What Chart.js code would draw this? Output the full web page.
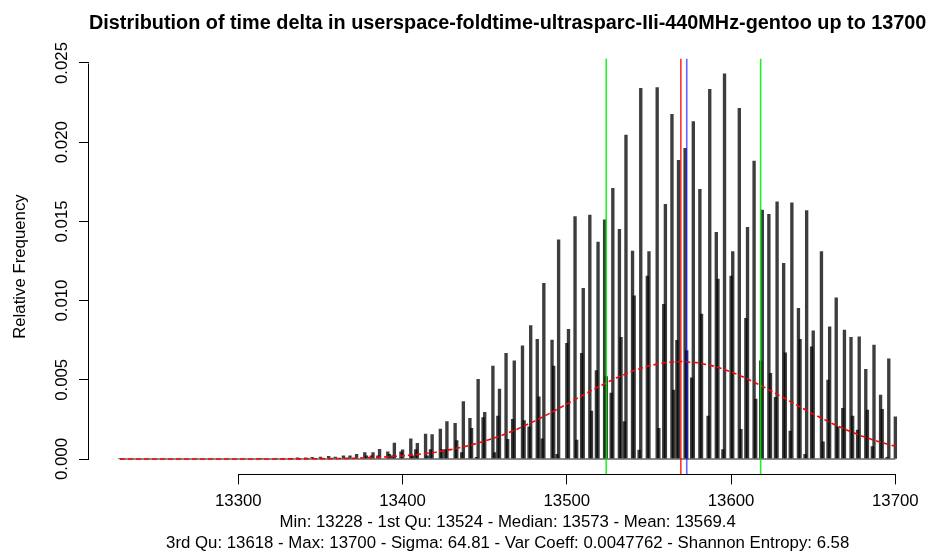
<!DOCTYPE html>
<html>
<head>
<meta charset="utf-8">
<script src="https://cdn.jsdelivr.net/npm/chart.js@4.4.1/dist/chart.umd.min.js"></script>
<style>
  html, body { margin: 0; padding: 0; background: #ffffff; }
  #wrap { width: 933px; height: 558px; }
</style>
</head>
<body>
<div id="wrap"><canvas id="c" width="933" height="558"></canvas></div>
<script>
// ---------- data ----------
const chartTitle = 'Distribution of time delta in userspace-foldtime-ultrasparc-IIi-440MHz-gentoo up to 13700';
const yLabel = 'Relative Frequency';
const statsLines = [
  'Min: 13228 - 1st Qu: 13524 - Median: 13573 - Mean: 13569.4',
  '3rd Qu: 13618 - Max: 13700 - Sigma: 64.81 - Var Coeff: 0.0047762 - Shannon Entropy: 6.58'
];

// main (tall) spike of each group
const peakDelta = [13228, 13314, 13323, 13327, 13332, 13336, 13341, 13345, 13350, 13355, 13359, 13364, 13368, 13372,
  13377, 13382, 13386, 13391, 13395, 13400, 13405, 13409, 13414, 13418, 13423, 13427, 13432, 13437, 13441,
  13446, 13450, 13455, 13459, 13463, 13468, 13473, 13478, 13482, 13486, 13491, 13495, 13501, 13505, 13510,
  13514, 13519, 13523, 13528, 13532, 13536, 13540, 13545, 13550, 13555, 13560, 13564, 13568, 13572, 13577,
  13581, 13587, 13591, 13596, 13601, 13605, 13610, 13614, 13619, 13623, 13628, 13632, 13637, 13641, 13646,
  13650, 13655, 13660, 13664, 13669, 13673, 13678, 13682, 13687, 13691, 13696, 13700];
const peakFreq = [0.00001, 0.00002, 0.00003, 0.00003, 0.00005, 0.00008, 0.00007, 0.0001, 0.00012, 0.00017, 0.00013, 0.0002, 0.0002, 0.0003,
  0.0004, 0.0004, 0.00062, 0.00046, 0.001, 0.00058, 0.00128, 0.00099, 0.00157, 0.00154, 0.00189, 0.00236, 0.00225, 0.00362, 0.00257,
  0.00503, 0.00295, 0.00587, 0.00442, 0.00667, 0.0062, 0.00715, 0.00842, 0.00756, 0.01109, 0.00751, 0.01383, 0.00819, 0.0153, 0.01078,
  0.0154, 0.0137, 0.0151, 0.01709, 0.0145, 0.02045, 0.01313, 0.0234, 0.01309, 0.02344, 0.01608, 0.02176, 0.01886, 0.01961, 0.0213,
  0.01703, 0.02334, 0.01431, 0.02431, 0.01309, 0.02214, 0.01463, 0.01881, 0.01572, 0.01545, 0.01624, 0.01235, 0.01618, 0.00951, 0.01568,
  0.0081, 0.01309, 0.00835, 0.01018, 0.00814, 0.00768, 0.00772, 0.00566, 0.0072, 0.00404, 0.00633, 0.00267];

// neighbouring (secondary) spike of each group
const sideDelta = [13378, 13381, 13385, 13392, 13394, 13399, 13406, 13408, 13415, 13417, 13424, 13426, 13433, 13436, 13442,
  13445, 13449, 13456, 13458, 13464, 13467, 13474, 13477, 13483, 13485, 13492, 13494, 13500, 13506, 13509,
  13515, 13518, 13524, 13527, 13533, 13535, 13541, 13544, 13549, 13556, 13559, 13565, 13567, 13573, 13576,
  13582, 13586, 13592, 13595, 13600, 13606, 13609, 13615, 13618, 13624, 13627, 13633, 13636, 13642, 13645,
  13649, 13656, 13659, 13665, 13668, 13674, 13677, 13683, 13686, 13692, 13695];
const sideFreq = [0.0002, 0.0002, 0.0002, 0.0003, 0.0002, 0.00045, 0.0002, 0.0006, 0.0002, 0.0006, 0.0006, 0.0006, 0.00116, 0.0004, 0.00194,
  0.0001, 0.00261, 0.0004, 0.00271, 0.00124, 0.0025, 0.00242, 0.00204, 0.00393, 0.00128, 0.00587, 0.0003, 0.0073, 0.0012, 0.00667,
  0.00303, 0.00558, 0.0052, 0.00416, 0.00768, 0.00236, 0.0103, 0.00057, 0.01155, 0.00194, 0.00977, 0.00436, 0.0075, 0.00684, 0.00513,
  0.00915, 0.00271, 0.01136, 0.0006, 0.01155, 0.00188, 0.00888, 0.00379, 0.0062, 0.00541, 0.0039, 0.00671, 0.00177, 0.00756, 0.0003,
  0.00709, 0.00109, 0.00499, 0.00204, 0.0032, 0.00271, 0.00183, 0.00309, 0.00078, 0.00314, 0.0001];

// red dashed fitted curve
const curveDelta = [13228, 13260, 13300, 13320, 13340, 13360, 13370, 13380, 13390, 13400, 13410, 13420, 13430, 13440, 13450,
  13460, 13470, 13480, 13490, 13500, 13510, 13520, 13530, 13540, 13550, 13560, 13570, 13580, 13590, 13600,
  13610, 13620, 13630, 13640, 13650, 13660, 13670, 13680, 13690, 13700];
const curveFreq = [0, 0.0000001, 0.000001, 0.000004, 0.000012, 0.000033, 0.000054, 0.000086, 0.000134, 0.000202, 0.000299, 0.000432, 0.000609, 0.000839, 0.001128,
  0.001481, 0.001899, 0.002377, 0.002906, 0.00347, 0.004044, 0.004604, 0.005117, 0.005554, 0.005886, 0.006091, 0.006155, 0.006074, 0.005852, 0.005506,
  0.005059, 0.004538, 0.003976, 0.003401, 0.002841, 0.002317, 0.001845, 0.001435, 0.00109, 0.000808];

// summary markers
const quartileMarks = [13524, 13618];
const meanMark = 13569.4;
const medianMark = 13573;
const minDelta = 13228, maxDelta = 13700;

// axes
const xTickValues = [13300, 13400, 13500, 13600, 13700];
const yTickValues = [0, 0.005, 0.010, 0.015, 0.020, 0.025];
const xLow = 13209.1, xHigh = 13718.9;
const yLow = -0.00097, yHigh = 0.02527;

// ---------- build ----------
const FONT = 'Liberation Sans, Arial, Helvetica, sans-serif';
const spikes = peakDelta.map((d, i) => ({ x: d, y: peakFreq[i] }))
  .concat(sideDelta.map((d, i) => ({ x: d, y: sideFreq[i] })))
  .sort((a, b) => a.x - b.x);

function vline(xv, color, w) {
  return {
    type: 'line', data: [{ x: xv, y: yLow }, { x: xv, y: yHigh }],
    borderColor: color, borderWidth: w, pointRadius: 0, order: 0, clip: false
  };
}

const rAxisLines = {
  id: 'rAxisLines',
  afterDraw(chart) {
    const { ctx, chartArea, scales: { x, y } } = chart;
    ctx.save();
    ctx.strokeStyle = '#000';
    ctx.lineWidth = 1;
    ctx.beginPath();
    const yb = Math.round(chartArea.bottom) + 0.5;
    ctx.moveTo(Math.round(x.getPixelForValue(xTickValues[0])) + 0.5, yb);
    ctx.lineTo(Math.round(x.getPixelForValue(xTickValues[xTickValues.length - 1])) + 0.5, yb);
    const xl = Math.round(chartArea.left) - 0.5;
    ctx.moveTo(xl, Math.round(y.getPixelForValue(yTickValues[0])) + 0.5);
    ctx.lineTo(xl, Math.round(y.getPixelForValue(yTickValues[yTickValues.length - 1])) + 0.5);
    ctx.stroke();
    ctx.restore();
  }
};

new Chart(document.getElementById('c'), {
  type: 'bar',
  data: {
    datasets: [
      vline(quartileMarks[0], 'rgba(0,235,0,0.85)', 1.6),
      vline(quartileMarks[1], 'rgba(0,235,0,0.85)', 1.6),
      vline(meanMark, 'rgba(255,0,0,0.8)', 1.6),
      vline(medianMark, 'rgba(0,0,255,0.6)', 1.6),
      {
        type: 'line', data: curveDelta.map((d, i) => ({ x: d, y: curveFreq[i] })),
        borderColor: '#ff0000', borderWidth: 1.6, borderDash: [5, 3], pointRadius: 0, order: 1, tension: 0
      },
      {
        type: 'line', data: [{ x: minDelta, y: 0 }, { x: maxDelta, y: 0 }],
        borderColor: '#666666', borderWidth: 1.5, pointRadius: 0, order: 2
      },
      {
        type: 'bar', data: spikes, backgroundColor: 'rgba(0,0,0,0.76)', borderWidth: 0,
        barThickness: 2.7, order: 3
      }
    ]
  },
  options: {
    responsive: false,
    animation: false,
    devicePixelRatio: 1,
    layout: { padding: { left: 0, right: 6.6, top: 0, bottom: 0 } },
    plugins: {
      legend: { display: false },
      tooltip: { enabled: false },
      title: {
        display: true, text: chartTitle, color: '#000', fullSize: false,
        font: { family: FONT, size: 20, weight: 'bold', lineHeight: 1.2 },
        padding: { top: 11, bottom: 23.7 }
      }
    },
    scales: {
      x: {
        type: 'linear', min: xLow, max: xHigh, offset: false,
        afterBuildTicks: s => { s.ticks = xTickValues.map(v => ({ value: v })); },
        afterFit: s => { s.height = 83.6; },
        ticks: { color: '#000', font: { family: FONT, size: 16.8 }, padding: 6.5, maxRotation: 0, autoSkip: false,
          callback: v => String(v) },
        grid: { offset: false, drawOnChartArea: false, drawTicks: true, tickLength: 10, color: '#000', lineWidth: 1 },
        border: { display: false },
        title: {
          display: true, text: statsLines, color: '#000',
          font: { family: FONT, size: 16.8, lineHeight: 1.22 },
          padding: { top: 0, bottom: 4.75 }
        }
      },
      y: {
        min: yLow, max: yHigh,
        afterBuildTicks: s => { s.ticks = yTickValues.map(v => ({ value: v })); },
        afterFit: s => { s.width = 89; },
        ticks: { color: '#000', font: { family: FONT, size: 16.8 }, minRotation: 90, maxRotation: 90,
          crossAlign: 'center', padding: -4, autoSkip: false, callback: v => Number(v).toFixed(3) },
        grid: { offset: false, drawOnChartArea: false, drawTicks: true, tickLength: 10, color: '#000', lineWidth: 1 },
        border: { display: false },
        title: {
          display: true, text: yLabel, color: '#000',
          font: { family: FONT, size: 16.8, lineHeight: 1.2 },
          padding: { top: 10, bottom: 0 }
        }
      }
    }
  },
  plugins: [rAxisLines]
});
</script>
</body>
</html>
